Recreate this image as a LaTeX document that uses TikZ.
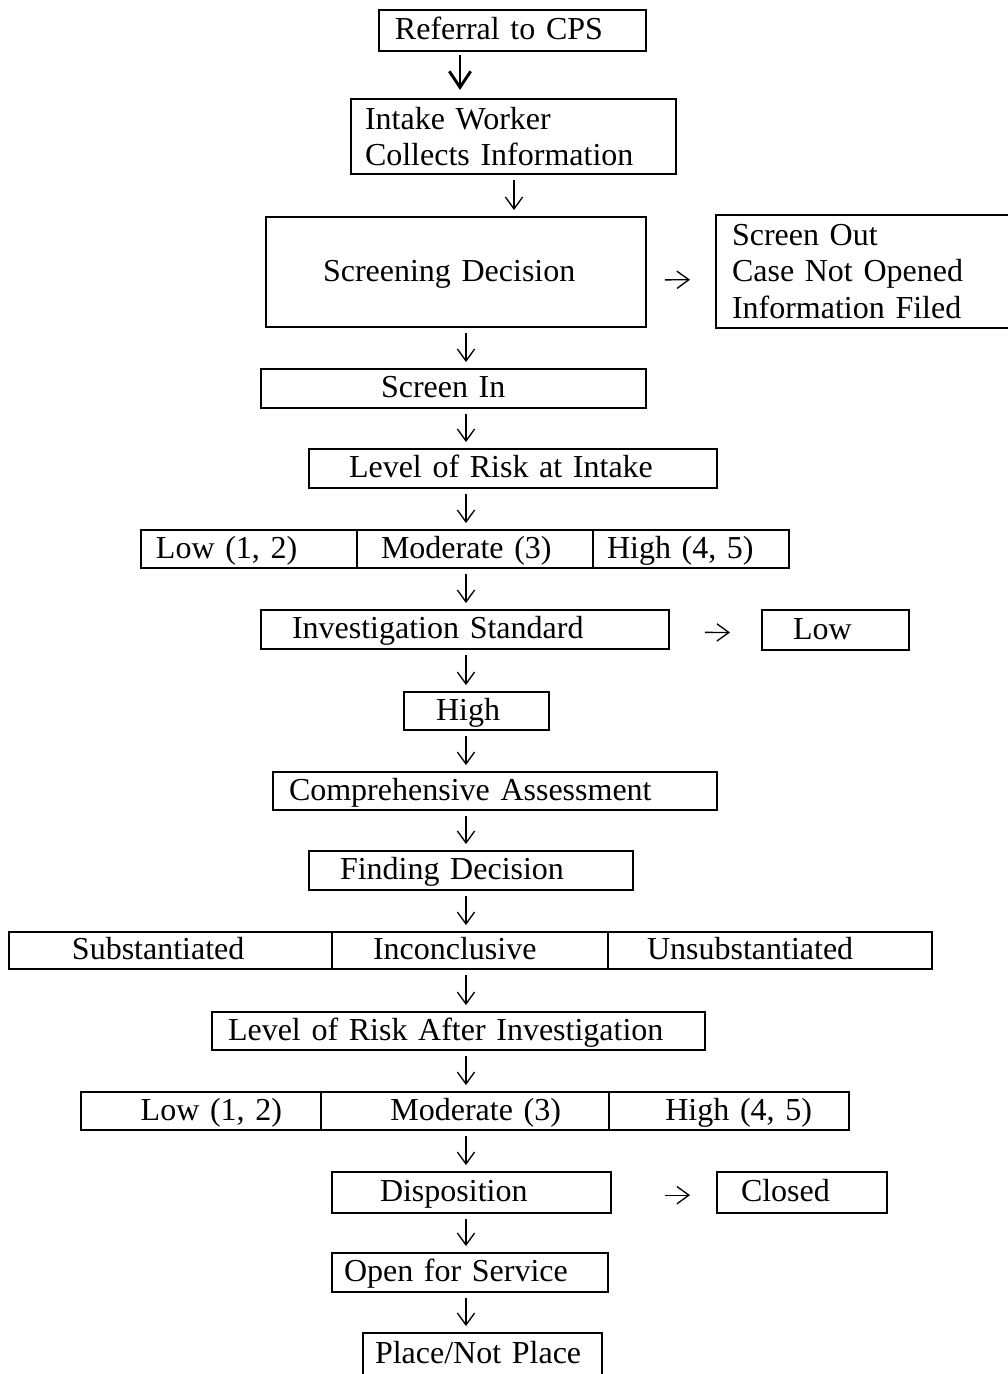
\documentclass[tikz,border=0pt]{standalone}
\usepackage{fontspec}
\setmainfont{Liberation Serif}
\usetikzlibrary{arrows.meta}

\tikzset{
  box/.style={draw, line width=0.9pt, anchor=north west, outer sep=0pt, inner ysep=0pt, align=left, font=\fontsize{12pt}{13.8pt}\selectfont},
  oneline/.style={text height=9.5pt, text depth=2.5pt},
  flow/.style={line width=0.5pt, -{Straight Barb[length=4.5pt,width=6.5pt]}, shorten <=2.25pt, shorten >=2.6pt},
  boldflow/.style={line width=1.1pt, -{Straight Barb[length=6pt,width=8pt]}, shorten <=1.5pt, shorten >=3.4pt}
}

\begin{document}
\begin{tikzpicture}[x=0.375pt,y=-0.375pt]

\useasboundingbox (0,0) rectangle (1008,1374);

% Columns that the arrows run down
\coordinate (spineA) at (460,0);
\coordinate (spineB) at (514,0);
\coordinate (spine) at (466,0);

% Referral and screening
\node[box, oneline, inner xsep=6pt, text width=88.125pt, minimum height=15.375pt] (ref) at (379,10) {Referral to CPS};
\node[box, inner xsep=5.25pt, text width=111.375pt, minimum height=28.125pt] (intake) at (351,99) {Intake Worker\\Collects Information};
\node[box, oneline, inner xsep=21.375pt, text width=99.75pt, minimum height=41.25pt] (scr) at (266,217) {Screening Decision};
\node[box, inner xsep=6pt, text width=98.25pt, minimum height=42.375pt] (out) at (716,215) {Screen Out\\Case Not Opened\\Information Filed};
\node[box, oneline, inner xsep=45pt, text width=54.375pt, minimum height=14.625pt] (in) at (261,369) {Screen In};
\node[box, oneline, inner xsep=15pt, text width=123pt, minimum height=14.625pt] (riskA) at (309,449) {Level of Risk at Intake};

% Risk at intake
\node[box, oneline, inner xsep=5.625pt, text width=69.75pt, minimum height=14.25pt] (lowA) at (141,530) {Low (1, 2)};
\node[box, oneline, inner xsep=9pt, text width=70.5pt, minimum height=14.25pt] (modA) at (357,530) {Moderate (3)};
\node[box, oneline, inner xsep=5.25pt, text width=63pt, minimum height=14.25pt] (highA) at (593,530) {High (4, 5)};

% Investigation
\node[box, oneline, inner xsep=11.625pt, text width=129.75pt, minimum height=14.625pt] (invest) at (261,610) {Investigation Standard};
\node[box, oneline, inner xsep=11.625pt, text width=31.875pt, minimum height=15pt] (lowS) at (762,610) {Low};
\node[box, oneline, inner xsep=12pt, text width=30.375pt, minimum height=14.25pt] (high) at (404,692) {High};
\node[box, oneline, inner xsep=6pt, text width=154.5pt, minimum height=14.25pt] (comp) at (273,772) {Comprehensive Assessment};
\node[box, oneline, inner xsep=11.625pt, text width=98.25pt, minimum height=14.625pt] (find) at (309,851) {Finding Decision};

% Findings
\node[box, oneline, inner xsep=23.625pt, text width=73.875pt, minimum height=13.875pt] (subst) at (9,932) {Substantiated};
\node[box, oneline, inner xsep=15.375pt, text width=72.75pt, minimum height=13.875pt] (incon) at (332,932) {Inconclusive};
\node[box, oneline, inner xsep=14.625pt, text width=92.25pt, minimum height=13.875pt] (unsub) at (608,932) {Unsubstantiated};
\node[box, oneline, inner xsep=6pt, text width=172.875pt, minimum height=14.25pt] (riskB) at (212,1012) {Level of Risk After Investigation};

% Risk after investigation
\node[box, oneline, align=right, inner xsep=14.625pt, text width=60.75pt, minimum height=14.25pt] (lowB) at (81,1092) {Low (1, 2)};
\node[box, oneline, align=right, inner xsep=18pt, text width=72pt, minimum height=14.25pt] (modB) at (321,1092) {Moderate (3)};
\node[box, oneline, align=right, inner xsep=13.875pt, text width=62.25pt, minimum height=14.25pt] (highB) at (609,1092) {High (4, 5)};

% Disposition
\node[box, oneline, inner xsep=18pt, text width=68.625pt, minimum height=15.375pt] (disp) at (332,1172) {Disposition};
\node[box, oneline, inner xsep=9pt, text width=45.75pt, minimum height=15.375pt] (closed) at (717,1172) {Closed};
\node[box, oneline, inner xsep=4.5pt, text width=94.5pt, minimum height=14.625pt] (open) at (332,1253) {Open for Service};
\node[box, oneline, inner xsep=4.5pt, text width=80.625pt, minimum height=16.125pt] (place) at (363,1333) {Place/Not Place};

% Arrows down
\draw[boldflow] (ref.south -| spineA) -- (intake.north -| spineA);
\draw[flow] (intake.south -| spineB) -- (scr.north -| spineB);
\draw[flow] (scr.south -| spine) -- (in.north -| spine);
\draw[flow] (in.south -| spine) -- (riskA.north -| spine);
\draw[flow] (riskA.south -| spine) -- (modA.north -| spine);
\draw[flow] (modA.south -| spine) -- (invest.north -| spine);
\draw[flow] (invest.south -| spine) -- (high.north -| spine);
\draw[flow] (high.south -| spine) -- (comp.north -| spine);
\draw[flow] (comp.south -| spine) -- (find.north -| spine);
\draw[flow] (find.south -| spine) -- (incon.north -| spine);
\draw[flow] (incon.south -| spine) -- (riskB.north -| spine);
\draw[flow] (riskB.south -| spine) -- (modB.north -| spine);
\draw[flow] (modB.south -| spine) -- (disp.north -| spine);
\draw[flow] (disp.south -| spine) -- (open.north -| spine);
\draw[flow] (open.south -| spine) -- (place.north -| spine);

% Arrows to the side
\draw[flow, shorten <=7.1pt, shorten >=9.75pt] ([yshift=-3pt]scr.east) -- ([yshift=-3pt]out.west);
\draw[flow, shorten <=13.5pt, shorten >=12pt] ([yshift=-1pt]invest.east) -- ([yshift=-1pt]lowS.west);
\draw[flow, shorten <=20.25pt, shorten >=10.1pt] ([yshift=-1pt]disp.east) -- ([yshift=-1pt]closed.west);

\end{tikzpicture}
\end{document}
